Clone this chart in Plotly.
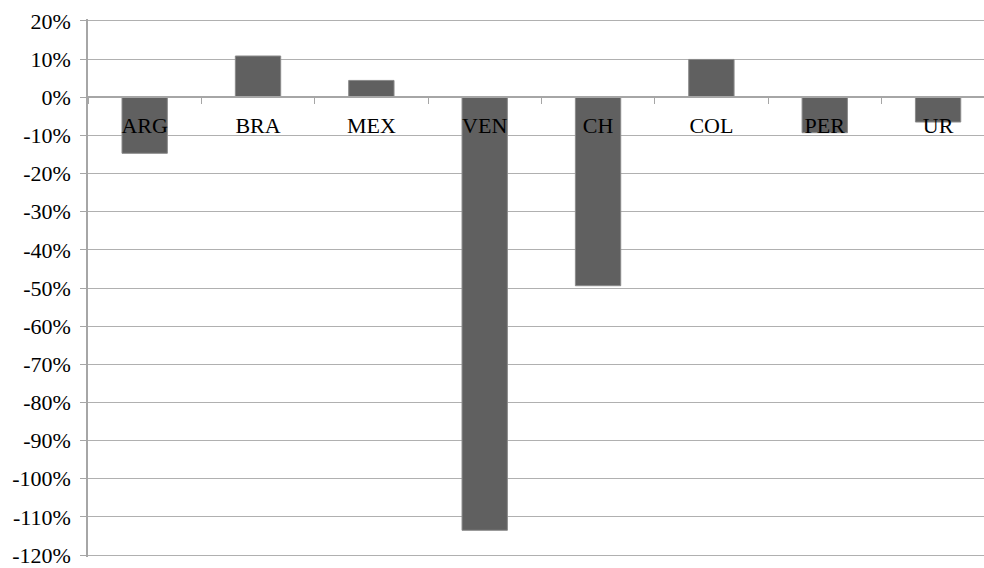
import plotly.graph_objects as go

categories = ["ARG", "BRA", "MEX", "VEN", "CH", "COL", "PER", "UR"]
values = [-14.7, 10.8, 4.4, -113.5, -49.4, 9.9, -9.3, -6.5]
y_tick_vals = [20, 10, 0, -10, -20, -30, -40, -50, -60, -70, -80, -90, -100, -110, -120]
y_tick_text = ["20%", "10%", "0%", "-10%", "-20%", "-30%", "-40%", "-50%", "-60%",
               "-70%", "-80%", "-90%", "-100%", "-110%", "-120%"]

FONT = "Liberation Serif, Times New Roman, serif"
fig = go.Figure()
fig.add_trace(go.Bar(
    x=categories, y=values, width=0.4,
    marker=dict(color="#606060", line=dict(color="#8a8a8a", width=1)),
))

fig.update_layout(
    width=984, height=568,
    margin=dict(l=88, r=0, t=19, b=9),
    paper_bgcolor="white", plot_bgcolor="white",
    showlegend=False,
    font=dict(family=FONT, size=22, color="black"),
)
fig.update_xaxes(
    type="category",
    range=[-0.5, 7.405],
    anchor="free", position=120.5 / 141.0,
    showline=True, linecolor="#a6a6a6", linewidth=1.5,
    ticks="outside", tickson="boundaries", ticklen=6, tickcolor="#a6a6a6",
    showgrid=False, zeroline=False,
    tickfont=dict(family=FONT, size=22, color="black"),
    ticklabelstandoff=9,
)
fig.update_yaxes(
    range=[-120.5, 20.5],
    tickvals=y_tick_vals, ticktext=y_tick_text,
    showline=True, linecolor="#a6a6a6", linewidth=1.5,
    ticks="outside", ticklen=6, tickcolor="#a6a6a6",
    showgrid=True, gridcolor="#b0b0b0", gridwidth=1.2,
    zeroline=False,
    tickfont=dict(family=FONT, size=22, color="black"),
    ticklabelstandoff=5,
    ticklabeloverflow="allow",
)

fig.write_html("out.html")
